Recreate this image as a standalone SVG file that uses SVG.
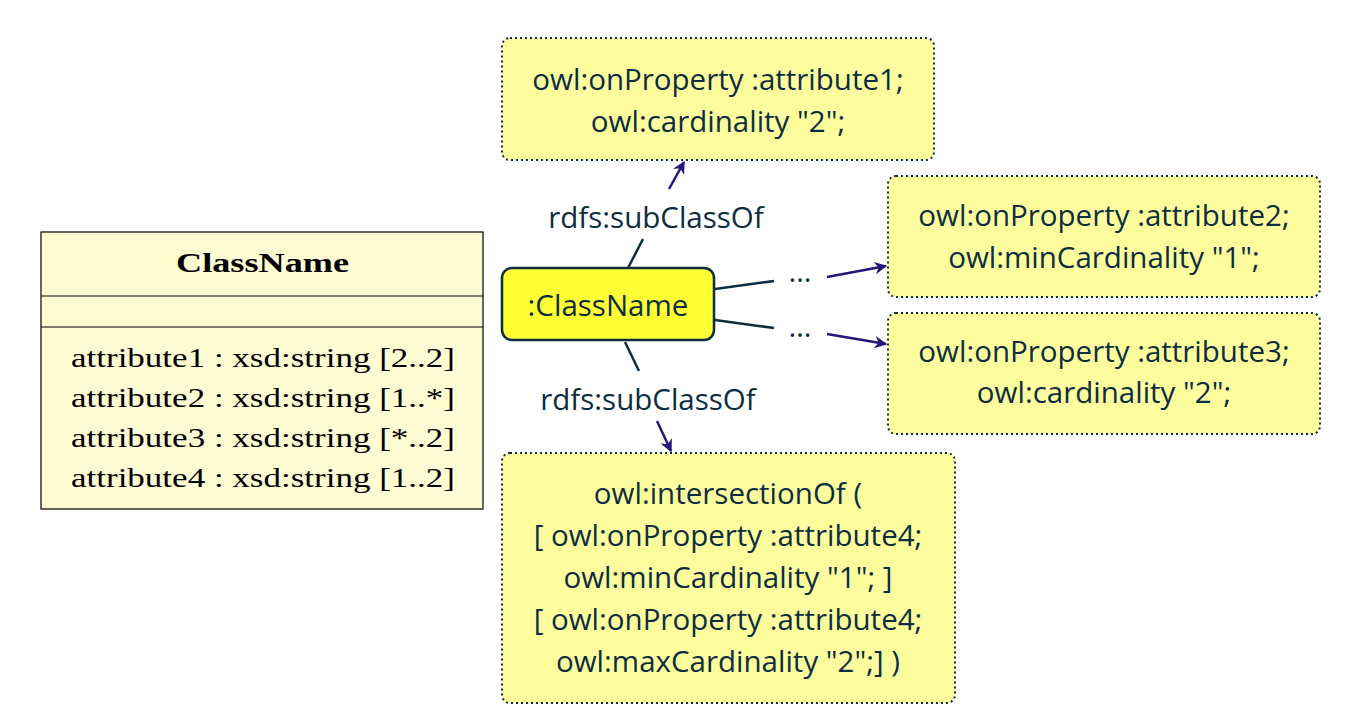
<svg xmlns="http://www.w3.org/2000/svg" width="1360" height="723" viewBox="0 0 1360 723">
<defs>
<style>
.t{font-family:"Open Sans","DejaVu Sans",sans-serif;font-size:29.5px;fill:#0d2d40;text-anchor:middle}
.s{font-family:"Liberation Serif",serif;font-size:28px;fill:#000}
.box{fill:#fdfd9e;stroke:#0d2d40;stroke-width:2;stroke-dasharray:2 3}
.c{stroke:#0d2d40;stroke-width:2.5;fill:none}
.a{stroke:#24177a;stroke-width:2.5;fill:none;marker-end:url(#ar)}
</style>
<marker id="ar" viewBox="0 0 10 10" refX="9" refY="5" markerWidth="7" markerHeight="7" orient="auto" markerUnits="userSpaceOnUse" style="overflow:visible"><path d="M0,0 L10,5 L0,10 L3,5 Z" fill="#24177a" transform="scale(1.8) translate(-4,-2.2)"/></marker>
</defs>
<rect width="1360" height="723" fill="#fff"/>
<g id="uml">
<rect x="41" y="232" width="442" height="277" fill="#fffbd2" stroke="#000" stroke-width="1.2"/>
<line x1="41" y1="296" x2="483" y2="296" stroke="#000" stroke-width="1.2"/>
<line x1="41" y1="327" x2="483" y2="327" stroke="#000" stroke-width="1.2"/>
<text x="176" y="272" class="s" font-weight="bold" textLength="173" lengthAdjust="spacingAndGlyphs">ClassName</text>
<text x="71" y="367" class="s" textLength="384" lengthAdjust="spacingAndGlyphs">attribute1 : xsd:string [2..2]</text>
<text x="71" y="407" class="s" textLength="384" lengthAdjust="spacingAndGlyphs">attribute2 : xsd:string [1..*]</text>
<text x="71" y="447" class="s" textLength="384" lengthAdjust="spacingAndGlyphs">attribute3 : xsd:string [*..2]</text>
<text x="71" y="487" class="s" textLength="384" lengthAdjust="spacingAndGlyphs">attribute4 : xsd:string [1..2]</text>
</g>
<g id="n-top">
<rect x="502" y="38" width="432" height="122" rx="8" class="box"/>
<text x="718" y="90" class="t">owl:onProperty :attribute1;</text>
<text x="718" y="132" class="t">owl:cardinality "2";</text>
</g>
<g id="n-r1">
<rect x="888" y="176" width="432" height="121" rx="8" class="box"/>
<text x="1104" y="226" class="t">owl:onProperty :attribute2;</text>
<text x="1104" y="268" class="t">owl:minCardinality "1";</text>
</g>
<g id="n-r2">
<rect x="888" y="313" width="432" height="121" rx="8" class="box"/>
<text x="1104" y="362" class="t">owl:onProperty :attribute3;</text>
<text x="1104" y="403" class="t">owl:cardinality "2";</text>
</g>
<g id="n-bottom">
<rect x="502" y="453" width="453" height="250" rx="8" class="box"/>
<text x="728" y="504" class="t">owl:intersectionOf (</text>
<text x="728" y="546" class="t">[ owl:onProperty :attribute4;</text>
<text x="728" y="588" class="t">owl:minCardinality "1"; ]</text>
<text x="728" y="630" class="t">[ owl:onProperty :attribute4;</text>
<text x="728" y="672" class="t">owl:maxCardinality "2";] )</text>
</g>
<g id="n-class">
<rect x="502" y="268" width="212" height="72" rx="10" fill="#ffff33" stroke="#0d2d40" stroke-width="2.5"/>
<text x="608" y="316" class="t">:ClassName</text>
</g>
<g id="connectors">
<line x1="628" y1="268" x2="643" y2="239" class="c"/>
<text x="656" y="228" class="t">rdfs:subClassOf</text>
<line x1="669" y1="189" x2="684" y2="162" class="a"/>
<line x1="625" y1="342" x2="639" y2="371" class="c"/>
<text x="648" y="410" class="t">rdfs:subClassOf</text>
<line x1="657" y1="421" x2="671" y2="451" class="a"/>
<line x1="715" y1="289" x2="774" y2="281" class="c"/>
<text x="800" y="282" class="t">…</text>
<line x1="827" y1="277" x2="886" y2="266" class="a"/>
<line x1="715" y1="320" x2="774" y2="328" class="c"/>
<text x="800" y="337" class="t">…</text>
<line x1="827" y1="334" x2="886" y2="344" class="a"/>
</g>
</svg>
